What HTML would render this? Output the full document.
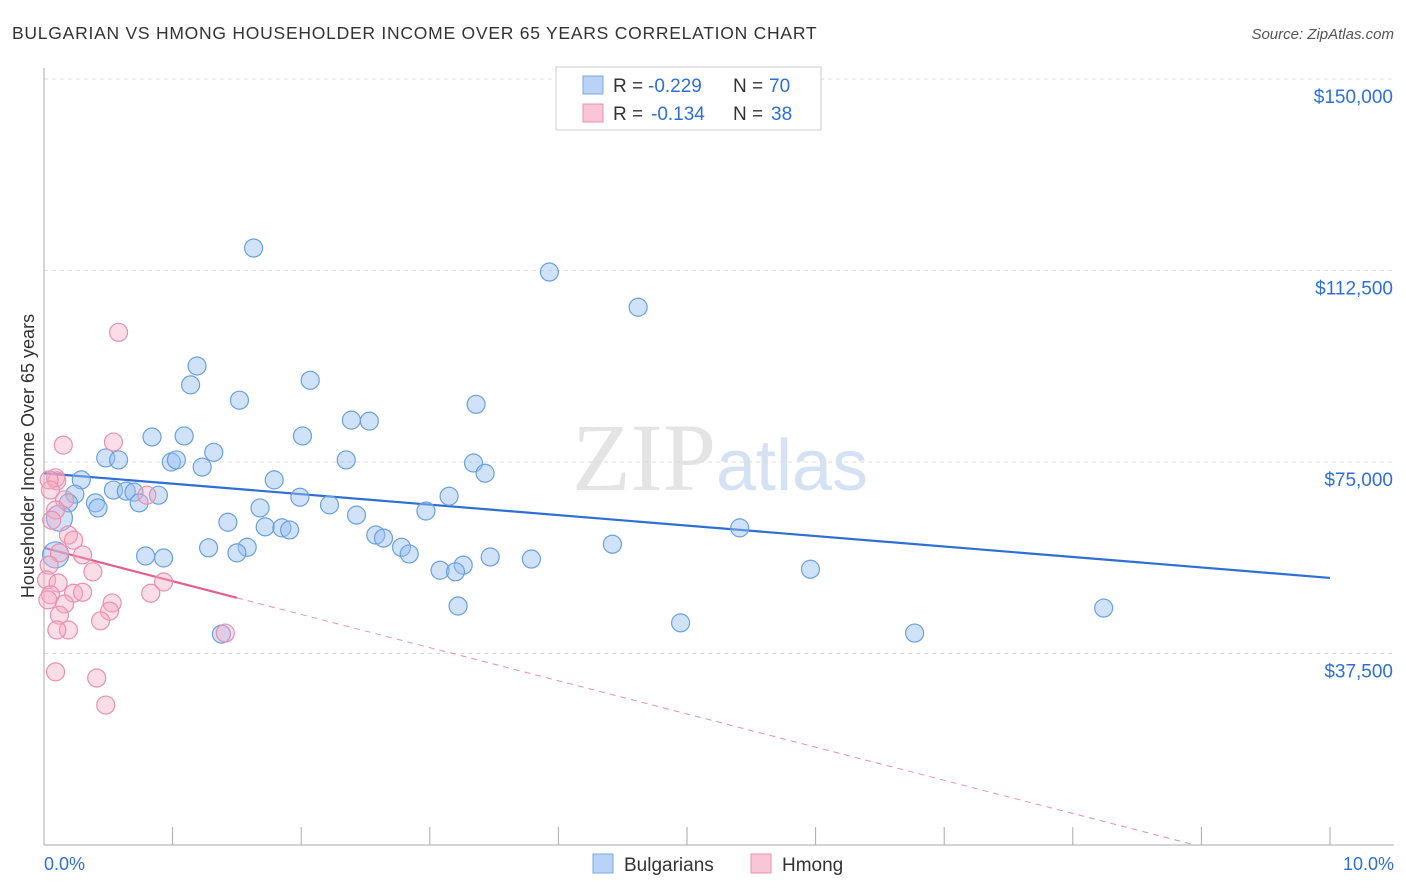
<!DOCTYPE html>
<html><head><meta charset="utf-8"><style>
body{margin:0;background:#fff;font-family:"Liberation Sans",sans-serif}
svg{display:block}
</style></head><body>
<svg width="1406" height="892" viewBox="0 0 1406 892">
<text x="12" y="39" font-size="17.5" fill="#333" letter-spacing="0.75">BULGARIAN VS HMONG HOUSEHOLDER INCOME OVER 65 YEARS CORRELATION CHART</text>
<text x="1394" y="39" font-size="15" fill="#555" text-anchor="end" font-style="italic">Source: ZipAtlas.com</text>
<text x="720" y="490" font-size="96" fill="#e4e4e4" text-anchor="middle" font-family="Liberation Serif,serif">ZIP<tspan fill="#d4e2f4" font-family="Liberation Sans,sans-serif" font-size="72">atlas</tspan></text>
<g id="grid"></g>
<g id="axes"></g>
<text transform="translate(34,456) rotate(-90)" font-size="18" fill="#333" text-anchor="middle">Householder Income Over 65 years</text>
<g id="lines"></g>
<g id="pts"></g>
<g>
<rect x="556" y="67" width="265" height="63" fill="#fff" stroke="#ccc"/>
<rect x="583" y="76" width="20" height="18" fill="#b8d3f5" stroke="#7aa8e0"/>
<text x="613" y="92" font-size="19" fill="#333">R =</text>
<text x="648" y="92" font-size="19" fill="#2e6fd6">-0.229</text>
<text x="733" y="92" font-size="19" fill="#333">N =</text>
<text x="769" y="92" font-size="19" fill="#2e6fd6">70</text>
<rect x="583" y="104" width="20" height="18" fill="#f8c6d6" stroke="#e890b0"/>
<text x="613" y="120" font-size="19" fill="#333">R =</text>
<text x="651" y="120" font-size="19" fill="#2e6fd6">-0.134</text>
<text x="733" y="120" font-size="19" fill="#333">N =</text>
<text x="771" y="120" font-size="19" fill="#2e6fd6">38</text>
</g>
<g>
<rect x="593" y="854" width="20" height="19" fill="#b8d3f5" stroke="#7aa8e0"/>
<text x="624" y="871" font-size="19" fill="#333">Bulgarians</text>
<rect x="751" y="854" width="20" height="19" fill="#f8c6d6" stroke="#e890b0"/>
<text x="782" y="871" font-size="19" fill="#333">Hmong</text>
</g>
<text x="44" y="870" font-size="18" fill="#2e6fd6">0.0%</text>
<text x="1394" y="870" font-size="18" fill="#2e6fd6" text-anchor="end">10.0%</text>
</svg>
<script>
const yTicks=[37500,75000,112500,150000];
const yTickLabels=["$37,500","$75,000","$112,500","$150,000"];
const bulgX=[1.63,3.93,4.62,1.19,2.07,1.14,1.52,3.36,2.39,2.53,0.84,1.09,2.01,1.32,0.48,0.58,0.99,1.03,2.35,1.23,3.34,3.43,0.29,1.79,0.54,0.64,0.70,0.89,0.24,1.99,3.15,0.40,0.74,0.19,0.42,2.22,1.68,2.97,2.43,0.12,1.43,1.72,1.85,1.91,5.41,2.58,2.64,4.42,1.28,1.58,2.78,1.50,2.84,0.79,0.93,3.47,3.79,0.09,3.26,3.08,3.20,5.96,3.22,8.24,4.95,6.77,1.38];
const bulgY=[116.9,112.2,105.3,93.8,91.0,90.1,87.1,86.3,83.2,83.0,79.9,80.1,80.1,76.9,75.8,75.4,75.0,75.4,75.4,74.0,74.8,72.8,71.5,71.5,69.5,69.3,69.1,68.5,68.7,68.1,68.3,67.0,67.0,67.0,66.0,66.6,66.0,65.4,64.6,64.0,63.2,62.3,62.1,61.7,62.1,60.7,60.1,58.9,58.2,58.3,58.3,57.2,57.0,56.6,56.2,56.4,56.0,56.8,54.8,53.8,53.5,54.0,46.8,46.4,43.5,41.5,41.3];
const bulgBig=[39,57];
const hmX=[0.58,0.15,0.54,0.09,0.10,0.04,0.05,0.16,0.80,0.09,0.19,0.23,0.30,0.12,0.04,0.38,0.02,0.11,0.93,0.05,0.23,0.30,0.83,0.16,0.53,0.51,0.12,0.44,0.19,0.10,1.41,0.09,0.41,0.48,0.03,0.06];
const hmY=[100.4,78.3,78.9,71.9,71.3,71.5,69.5,67.6,68.5,65.6,60.7,59.7,56.8,57.2,54.8,53.5,51.9,51.3,51.5,49.0,49.3,49.5,49.3,47.2,47.4,45.8,45.0,43.9,42.1,42.1,41.5,33.9,32.7,27.4,48.0,63.6];
const bulgTrend=[[0,72.8],[10,52.3]];
const hmTrend=[[0,58.2],[1.5,48.4]];
const hmTrendExt=[[1.5,48.4],[8.95,0]];
const xTicks=[0,1,2,3,4,5,6,7,8,9,10];
const NS="http://www.w3.org/2000/svg";
const sx=v=>44+v*128.6;
const sy=k=>845-k*1000/37500*191.5;
function mk(t,a,p){const e=document.createElementNS(NS,t);for(const k in a)e.setAttribute(k,a[k]);p.appendChild(e);return e;}
const grid=document.getElementById('grid'),axes=document.getElementById('axes'),lines=document.getElementById('lines'),pts=document.getElementById('pts');
yTicks.forEach((v,i)=>{const y=sy(v/1000);
const l=mk('line',{x1:44,x2:1394,y1:y,y2:y,stroke:'#ddd','stroke-dasharray':'4,4'},grid);


const t=mk('text',{x:1393,y:y+24,'font-size':19,fill:'#2e6fd6','text-anchor':'end'},grid);t.textContent=yTickLabels[i];

});
const ax=mk('line',{x1:44,x2:1394,y1:845,y2:845,stroke:'#aaa'},axes);


const yax=mk('line',{x1:44,x2:44,y1:68,y2:845,stroke:'#aaa'},axes);


xTicks.forEach(v=>{const tk=mk('line',{x1:sx(v),x2:sx(v),y1:827,y2:845,stroke:'#aaa'},axes);

});
function ln(d,c,w,dash,name){const a=mk('line',{x1:sx(d[0][0]),y1:sy(d[0][1]),x2:sx(d[1][0]),y2:sy(d[1][1]),stroke:c,'stroke-width':w},lines);if(dash)a.setAttribute('stroke-dasharray',dash);

}
ln(bulgTrend,'#2e6fd6',2.2,null,'bulgarians-trend-line');
ln(hmTrend,'#e0608a',2.2,null,'hmong-trend-line');
ln(hmTrendExt,'#e890b0',1,'6,5','hmong-trend-extension');
bulgX.forEach((x,i)=>{const c=mk('circle',{cx:sx(x),cy:sy(bulgY[i]),r:bulgBig.includes(i)?13:9,fill:'rgba(150,190,240,0.45)',stroke:'#6a9fe0','stroke-width':1.2},pts);

});
hmX.forEach((x,i)=>{const c=mk('circle',{cx:sx(x),cy:sy(hmY[i]),r:9,fill:'rgba(245,170,195,0.4)',stroke:'#e890b0','stroke-width':1.2},pts);

});
</script>
</body></html>
